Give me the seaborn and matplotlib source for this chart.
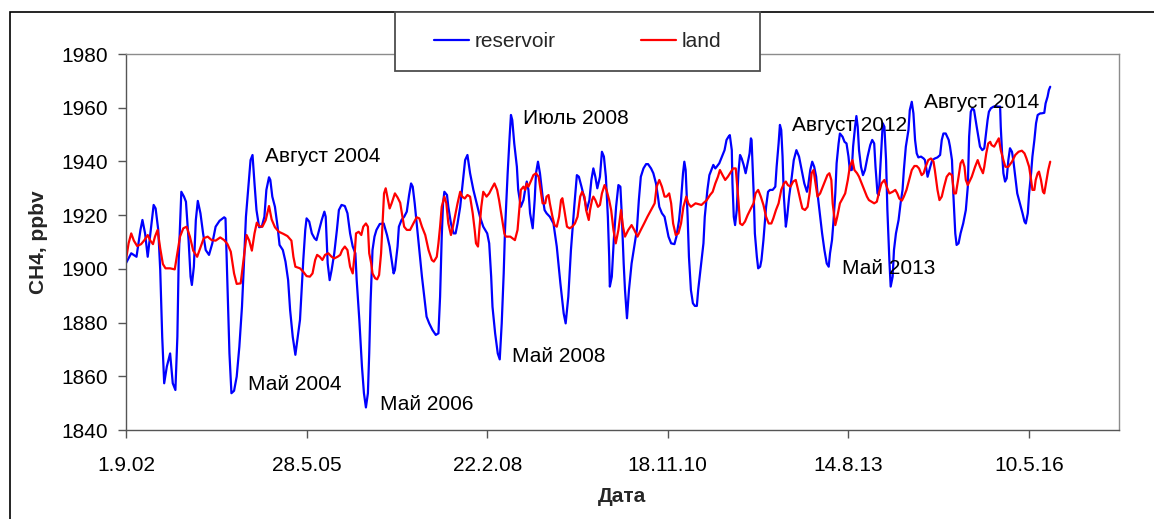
import numpy as np
import pandas as pd
import matplotlib
matplotlib.use('Agg')
import matplotlib.pyplot as plt
from matplotlib.patches import Rectangle
import seaborn as sns

# data: decimal year, CH4 (ppbv)
res_t = [2002.66, 2002.74, 2002.82, 2002.88, 2002.91, 2002.95, 2002.99, 2003.08, 2003.11, 2003.15,
         2003.18, 2003.21, 2003.24, 2003.28, 2003.33, 2003.37, 2003.41, 2003.44, 2003.46, 2003.50,
         2003.54, 2003.57, 2003.61, 2003.64, 2003.66, 2003.69, 2003.72, 2003.75, 2003.79, 2003.83,
         2003.87, 2003.92, 2003.97, 2004.02, 2004.08, 2004.15, 2004.17, 2004.20, 2004.23, 2004.26,
         2004.30, 2004.34, 2004.38, 2004.42, 2004.45, 2004.48, 2004.52, 2004.55, 2004.58, 2004.61,
         2004.64, 2004.68, 2004.72, 2004.76, 2004.79, 2004.83, 2004.85, 2004.88, 2004.92, 2004.96,
         2004.99, 2005.04, 2005.08, 2005.12, 2005.15, 2005.19, 2005.23, 2005.30, 2005.35, 2005.38,
         2005.40, 2005.44, 2005.48, 2005.52, 2005.55, 2005.59, 2005.63, 2005.67, 2005.69, 2005.72,
         2005.75, 2005.78, 2005.82, 2005.86, 2005.89, 2005.93, 2005.98, 2006.02, 2006.06, 2006.10,
         2006.14, 2006.16, 2006.20, 2006.24, 2006.27, 2006.30, 2006.33, 2006.35, 2006.37, 2006.40,
         2006.43, 2006.46, 2006.51, 2006.57, 2006.62, 2006.66, 2006.69, 2006.72, 2006.74, 2006.78,
         2006.80, 2006.84, 2006.88, 2006.92, 2006.955, 2006.985, 2007.01, 2007.04, 2007.07, 2007.11,
         2007.15, 2007.19, 2007.22, 2007.26, 2007.31, 2007.36, 2007.40, 2007.425, 2007.45, 2007.47,
         2007.49, 2007.53, 2007.55, 2007.59, 2007.63, 2007.66, 2007.69, 2007.73, 2007.77, 2007.805,
         2007.84, 2007.88, 2007.93, 2007.98, 2008.03, 2008.08, 2008.14, 2008.17, 2008.20, 2008.22,
         2008.26, 2008.30, 2008.33, 2008.36, 2008.39, 2008.41, 2008.45, 2008.48, 2008.50, 2008.52,
         2008.55, 2008.59, 2008.61, 2008.65, 2008.69, 2008.715, 2008.74, 2008.765, 2008.79, 2008.83,
         2008.86, 2008.88, 2008.91, 2008.94, 2008.98, 2009.01, 2009.04, 2009.09, 2009.145, 2009.195,
         2009.25, 2009.30, 2009.33, 2009.37, 2009.41, 2009.46, 2009.50, 2009.53, 2009.57, 2009.62,
         2009.65, 2009.69, 2009.72, 2009.75, 2009.78, 2009.81, 2009.85, 2009.88, 2009.91, 2009.94,
         2009.97, 2009.99, 2010.00, 2010.03, 2010.06, 2010.095, 2010.13, 2010.16, 2010.18, 2010.21,
         2010.23, 2010.26, 2010.29, 2010.33, 2010.37, 2010.41, 2010.44, 2010.47, 2010.51, 2010.55,
         2010.58, 2010.625, 2010.66, 2010.70, 2010.73, 2010.75, 2010.79, 2010.83, 2010.86, 2010.89,
         2010.93, 2010.98, 2011.01, 2011.05, 2011.08, 2011.11, 2011.13, 2011.15, 2011.18, 2011.20,
         2011.23, 2011.26, 2011.29, 2011.32, 2011.34, 2011.38, 2011.42, 2011.44, 2011.48, 2011.51,
         2011.55, 2011.57, 2011.60, 2011.62, 2011.66, 2011.70, 2011.74, 2011.77, 2011.80, 2011.82,
         2011.85, 2011.86, 2011.88, 2011.90, 2011.925, 2011.95, 2011.975, 2012.00, 2012.03, 2012.06,
         2012.09, 2012.12, 2012.14, 2012.15, 2012.18, 2012.20, 2012.23, 2012.25, 2012.28, 2012.30,
         2012.33, 2012.37, 2012.40, 2012.43, 2012.47, 2012.51, 2012.53, 2012.56, 2012.58, 2012.60,
         2012.62, 2012.64, 2012.67, 2012.69, 2012.72, 2012.76, 2012.79, 2012.83, 2012.87, 2012.91,
         2012.95, 2012.99, 2013.01, 2013.04, 2013.07, 2013.10, 2013.13, 2013.15, 2013.19, 2013.22,
         2013.255, 2013.29, 2013.32, 2013.34, 2013.37, 2013.39, 2013.42, 2013.44, 2013.47, 2013.49,
         2013.53, 2013.56, 2013.59, 2013.62, 2013.64, 2013.67, 2013.69, 2013.72, 2013.74, 2013.76,
         2013.78, 2013.81, 2013.84, 2013.87, 2013.91, 2013.95, 2013.98, 2014.01, 2014.03, 2014.06,
         2014.08, 2014.11, 2014.14, 2014.165, 2014.19, 2014.21, 2014.24, 2014.26, 2014.29, 2014.31,
         2014.34, 2014.38, 2014.41, 2014.44, 2014.46, 2014.49, 2014.53, 2014.55, 2014.58, 2014.605,
         2014.63, 2014.655, 2014.68, 2014.72, 2014.76, 2014.78, 2014.82, 2014.86, 2014.89, 2014.93,
         2014.97, 2015.01, 2015.035, 2015.06, 2015.095, 2015.14, 2015.16, 2015.19, 2015.21, 2015.24,
         2015.26, 2015.29, 2015.32, 2015.36, 2015.40, 2015.43, 2015.45, 2015.475, 2015.50, 2015.525,
         2015.54, 2015.565, 2015.59, 2015.615, 2015.65, 2015.68, 2015.70, 2015.73, 2015.75, 2015.78,
         2015.82, 2015.85, 2015.89, 2015.92, 2015.93, 2015.95, 2015.97, 2015.995, 2016.02, 2016.045,
         2016.07, 2016.10, 2016.12, 2016.15, 2016.18, 2016.22, 2016.26, 2016.29, 2016.31, 2016.34,
         2016.36, 2016.39, 2016.41, 2016.44, 2016.465, 2016.49, 2016.53, 2016.55, 2016.59, 2016.61,
         2016.64, 2016.66, 2016.68]
res_v = [1902.1, 1905.8, 1904.5, 1914.5, 1918.2, 1913.2, 1904.5, 1923.8, 1922.5, 1914.5,
         1899.6, 1874.7, 1857.4, 1863.6, 1868.5, 1857.4, 1854.9, 1874.7, 1903.3, 1928.7,
         1926.9, 1925.0, 1910.7, 1897.1, 1894.0, 1900.8, 1918.2, 1925.3, 1920.7, 1913.2,
         1907.0, 1905.2, 1909.5, 1915.7, 1917.9, 1919.2, 1918.8, 1893.4, 1868.5, 1853.7,
         1854.6, 1859.9, 1871.0, 1885.9, 1902.1, 1919.4, 1931.2, 1940.5, 1942.4, 1931.8,
         1921.9, 1915.5, 1915.7, 1919.4, 1929.4, 1934.1, 1933.1, 1926.9, 1923.1, 1915.7,
         1908.9, 1907.0, 1902.7, 1895.8, 1884.7, 1874.7, 1868.0, 1881.0, 1903.3, 1914.5,
         1918.8, 1917.6, 1913.2, 1911.4, 1910.7, 1914.5, 1918.2, 1921.3, 1919.4, 1902.1,
         1895.8, 1899.6, 1905.8, 1914.5, 1921.9, 1923.8, 1923.4, 1920.7, 1913.2, 1908.3,
         1905.8, 1895.8, 1881.0, 1863.6, 1853.7, 1848.4, 1853.7, 1868.5, 1887.2, 1907.0,
         1912.0, 1914.5, 1916.7, 1916.9, 1912.6, 1908.3, 1903.3, 1898.3, 1899.6, 1908.3,
         1915.7, 1918.2, 1919.4, 1921.3, 1927.5, 1931.8, 1930.6, 1924.4, 1916.9, 1907.0,
         1897.1, 1888.4, 1882.2, 1879.7, 1877.2, 1875.4, 1876.0, 1889.6, 1912.0, 1924.4,
         1928.7, 1927.5, 1923.1, 1916.9, 1913.2, 1913.2, 1916.9, 1923.1, 1932.5, 1940.5,
         1942.4, 1935.6, 1929.4, 1924.4, 1919.4, 1915.7, 1913.2, 1909.5, 1897.1, 1885.9,
         1876.0, 1868.5, 1866.3, 1879.7, 1898.3, 1914.5, 1935.6, 1949.2, 1957.3, 1955.4,
         1946.7, 1938.0, 1929.4, 1923.1, 1925.6, 1929.4, 1932.5, 1929.4, 1920.7, 1915.1,
         1925.6, 1935.6, 1939.9, 1935.6, 1926.9, 1921.9, 1920.7, 1919.4, 1916.9, 1908.3,
         1894.6, 1883.4, 1879.7, 1889.6, 1907.0, 1923.1, 1934.9, 1934.3, 1930.6, 1925.6,
         1921.9, 1925.6, 1933.1, 1937.4, 1934.3, 1930.0, 1934.3, 1943.6, 1941.8, 1934.3,
         1919.4, 1904.5, 1893.4, 1897.1, 1910.7, 1923.1, 1931.2, 1930.6, 1920.7, 1902.0,
         1892.1, 1881.6, 1892.1, 1902.0, 1908.3, 1914.5, 1925.6, 1934.3, 1937.4, 1939.0,
         1939.0, 1937.4, 1935.6, 1931.8, 1926.9, 1923.1, 1920.7, 1919.4, 1915.7, 1912.0,
         1909.5, 1909.2, 1912.0, 1918.2, 1925.6, 1935.6, 1939.9, 1936.8, 1919.4, 1904.5,
         1892.1, 1887.2, 1886.2, 1886.2, 1892.1, 1900.8, 1909.5, 1919.4, 1929.4, 1934.9,
         1937.4, 1938.7, 1937.4, 1938.0, 1939.3, 1941.8, 1944.2, 1948.0, 1949.2, 1949.8,
         1944.2, 1931.8, 1919.4, 1916.3, 1921.9, 1935.6, 1942.4, 1941.1, 1938.7, 1935.6,
         1939.3, 1943.0, 1948.6, 1948.0, 1929.4, 1913.2, 1904.5, 1900.2, 1900.8, 1903.3,
         1910.7, 1923.1, 1928.7, 1929.4, 1929.4, 1930.6, 1938.0, 1946.7, 1953.6, 1951.7,
         1941.8, 1926.9, 1915.7, 1919.4, 1926.9, 1934.3, 1940.5, 1944.2, 1941.8, 1936.8,
         1931.8, 1928.7, 1931.2, 1936.8, 1939.9, 1938.0, 1934.3, 1928.1, 1919.4, 1913.2,
         1907.0, 1902.0, 1900.8, 1905.8, 1910.7, 1916.9, 1928.1, 1939.3, 1946.7, 1950.4,
         1949.2, 1947.3, 1946.7, 1941.8, 1936.8, 1936.8, 1945.5, 1952.9, 1956.9, 1952.9,
         1944.2, 1938.0, 1934.9, 1936.8, 1941.8, 1946.1, 1948.0, 1946.7, 1938.0, 1928.1,
         1927.5, 1940.5, 1954.2, 1952.9, 1940.5, 1921.9, 1903.3, 1893.4, 1897.1, 1907.0,
         1913.2, 1918.2, 1924.4, 1929.4, 1936.8, 1945.5, 1951.7, 1959.1, 1962.2, 1957.9,
         1948.0, 1943.0, 1941.5, 1941.8, 1941.1, 1940.5, 1934.3, 1938.0, 1940.5, 1941.1,
         1941.5, 1942.4, 1948.0, 1950.4, 1950.4, 1948.0, 1945.5, 1940.5, 1928.1, 1913.2,
         1908.9, 1909.5, 1913.2, 1916.9, 1921.9, 1930.6, 1949.2, 1958.5, 1959.8, 1959.1,
         1956.7, 1952.9, 1949.2, 1945.5, 1944.2, 1944.9, 1949.2, 1955.4, 1958.5, 1959.8,
         1960.4, 1960.6, 1960.4, 1960.4, 1952.9, 1943.0, 1935.6, 1932.5, 1933.7, 1940.5,
         1944.9, 1943.6, 1940.5, 1934.3, 1928.1, 1924.4, 1920.7, 1917.6, 1916.9, 1920.7,
         1928.1, 1935.6, 1941.8, 1948.0, 1954.2, 1957.3, 1957.9, 1957.9, 1958.1, 1961.6,
         1964.1, 1966.6, 1967.8]

land_t = [2002.66, 2002.70, 2002.74, 2002.78, 2002.83, 2002.89, 2002.94, 2002.99, 2003.03, 2003.07,
          2003.10, 2003.14, 2003.18, 2003.22, 2003.26, 2003.33, 2003.40, 2003.44, 2003.48, 2003.53,
          2003.58, 2003.63, 2003.68, 2003.74, 2003.79, 2003.84, 2003.90, 2003.96, 2004.02, 2004.09,
          2004.15, 2004.20, 2004.25, 2004.30, 2004.34, 2004.40, 2004.45, 2004.49, 2004.53, 2004.57,
          2004.61, 2004.645, 2004.68, 2004.73, 2004.78, 2004.83, 2004.87, 2004.92, 2004.98, 2005.05,
          2005.11, 2005.17, 2005.20, 2005.23, 2005.30, 2005.35, 2005.40, 2005.45, 2005.49, 2005.53,
          2005.56, 2005.60, 2005.64, 2005.68, 2005.73, 2005.78, 2005.82, 2005.87, 2005.91, 2005.94,
          2005.98, 2006.02, 2006.06, 2006.10, 2006.13, 2006.15, 2006.19, 2006.23, 2006.26, 2006.30,
          2006.33, 2006.35, 2006.38, 2006.40, 2006.44, 2006.47, 2006.50, 2006.53, 2006.555, 2006.575,
          2006.60, 2006.63, 2006.66, 2006.69, 2006.74, 2006.78, 2006.82, 2006.85, 2006.88, 2006.92,
          2006.97, 2007.02, 2007.07, 2007.11, 2007.15, 2007.20, 2007.25, 2007.30, 2007.33, 2007.375,
          2007.40, 2007.425, 2007.45, 2007.49, 2007.52, 2007.55, 2007.59, 2007.62, 2007.65, 2007.69,
          2007.73, 2007.76, 2007.80, 2007.84, 2007.88, 2007.92, 2007.95, 2007.97, 2008.00, 2008.02,
          2008.05, 2008.08, 2008.13, 2008.17, 2008.21, 2008.25, 2008.29, 2008.32, 2008.36, 2008.40,
          2008.42, 2008.49, 2008.56, 2008.60, 2008.63, 2008.65, 2008.69, 2008.715, 2008.74, 2008.765,
          2008.81, 2008.84, 2008.88, 2008.92, 2008.95, 2008.98, 2009.02, 2009.04, 2009.07, 2009.09,
          2009.13, 2009.16, 2009.195, 2009.23, 2009.26, 2009.28, 2009.31, 2009.35, 2009.39, 2009.43,
          2009.47, 2009.51, 2009.55, 2009.58, 2009.615, 2009.64, 2009.68, 2009.70, 2009.73, 2009.75,
          2009.78, 2009.82, 2009.85, 2009.88, 2009.92, 2009.95, 2009.99, 2010.02, 2010.055, 2010.09,
          2010.13, 2010.17, 2010.20, 2010.23, 2010.28, 2010.33, 2010.37, 2010.42, 2010.47, 2010.52,
          2010.57, 2010.625, 2010.68, 2010.71, 2010.75, 2010.79, 2010.83, 2010.86, 2010.90, 2010.93,
          2010.96, 2011.00, 2011.04, 2011.08, 2011.116, 2011.16, 2011.19, 2011.23, 2011.30, 2011.39,
          2011.47, 2011.52, 2011.56, 2011.60, 2011.64, 2011.67, 2011.71, 2011.75, 2011.79, 2011.84,
          2011.87, 2011.91, 2011.95, 2011.975, 2012.01, 2012.05, 2012.09, 2012.14, 2012.18, 2012.21,
          2012.25, 2012.29, 2012.33, 2012.37, 2012.41, 2012.45, 2012.48, 2012.52, 2012.56, 2012.60,
          2012.64, 2012.67, 2012.70, 2012.74, 2012.78, 2012.82, 2012.85, 2012.89, 2012.92, 2012.96,
          2013.00, 2013.03, 2013.06, 2013.09, 2013.12, 2013.15, 2013.19, 2013.23, 2013.27, 2013.30,
          2013.33, 2013.36, 2013.38, 2013.42, 2013.45, 2013.49, 2013.53, 2013.57, 2013.61, 2013.64,
          2013.68, 2013.71, 2013.75, 2013.78, 2013.82, 2013.86, 2013.90, 2013.93, 2013.97, 2014.01,
          2014.05, 2014.08, 2014.12, 2014.165, 2014.20, 2014.24, 2014.29, 2014.33, 2014.36, 2014.39,
          2014.43, 2014.46, 2014.50, 2014.54, 2014.58, 2014.62, 2014.655, 2014.69, 2014.73, 2014.76,
          2014.79, 2014.83, 2014.87, 2014.91, 2014.93, 2014.97, 2015.00, 2015.035, 2015.07, 2015.11,
          2015.15, 2015.19, 2015.22, 2015.25, 2015.29, 2015.32, 2015.35, 2015.38, 2015.40, 2015.43,
          2015.49, 2015.54, 2015.58, 2015.615, 2015.66, 2015.68, 2015.71, 2015.74, 2015.77, 2015.79,
          2015.83, 2015.87, 2015.90, 2015.93, 2015.97, 2016.00, 2016.045, 2016.10, 2016.15, 2016.20,
          2016.25, 2016.29, 2016.32, 2016.36, 2016.39, 2016.41, 2016.44, 2016.46, 2016.49, 2016.51,
          2016.54, 2016.57, 2016.59, 2016.62, 2016.65, 2016.68]
land_v = [1903.3, 1909.5, 1913.2, 1910.5, 1908.5, 1909.2, 1910.7, 1912.6, 1910.5, 1909.2,
          1912.0, 1914.5, 1907.6, 1901.8, 1900.2, 1900.2, 1899.8, 1905.8, 1912.0, 1915.1,
          1915.7, 1912.0, 1906.8, 1904.5, 1908.0, 1911.4, 1912.0, 1910.7, 1910.5, 1911.7,
          1910.7, 1909.2, 1906.4, 1898.3, 1894.4, 1894.6, 1904.5, 1912.6, 1910.5, 1906.8,
          1913.2, 1917.2, 1915.9, 1915.7, 1918.2, 1923.4, 1918.4, 1915.5, 1913.8, 1913.0,
          1912.2, 1910.5, 1904.5, 1900.8, 1900.2, 1898.9, 1897.3, 1897.1, 1898.3, 1903.3,
          1905.2, 1904.5, 1903.3, 1905.2, 1905.8, 1904.5, 1903.9, 1904.5, 1905.2, 1907.0,
          1908.3, 1907.0, 1900.8, 1898.3, 1905.8, 1913.2, 1913.8, 1912.6, 1915.7, 1916.9,
          1915.7, 1905.8, 1902.1, 1898.3, 1896.5, 1896.1, 1897.7, 1905.8, 1918.2, 1928.1,
          1930.0, 1926.2, 1922.5, 1924.4, 1928.1, 1926.6, 1924.6, 1920.0, 1915.7, 1914.5,
          1914.5, 1916.9, 1919.2, 1918.8, 1915.7, 1912.6, 1907.0, 1903.3, 1902.7, 1904.5,
          1909.5, 1915.7, 1923.1, 1926.9, 1924.4, 1916.9, 1912.6, 1915.7, 1919.4, 1924.4,
          1928.7, 1926.9, 1926.2, 1927.5, 1926.9, 1920.7, 1914.5, 1909.5, 1908.3, 1914.5,
          1923.1, 1928.7, 1926.9, 1928.1, 1930.0, 1931.8, 1929.4, 1925.6, 1919.4, 1913.2,
          1912.0, 1912.0, 1910.7, 1914.5, 1923.1, 1929.4, 1930.6, 1929.4, 1931.8, 1930.6,
          1933.1, 1934.9, 1935.6, 1934.3, 1929.4, 1924.4, 1924.4, 1926.9, 1927.5, 1924.4,
          1919.4, 1916.3, 1915.7, 1919.4, 1925.6, 1926.3, 1921.9, 1915.7, 1915.1, 1915.7,
          1916.9, 1919.4, 1926.9, 1928.7, 1926.9, 1921.9, 1918.2, 1921.9, 1925.6, 1926.9,
          1925.6, 1923.1, 1923.8, 1928.1, 1931.2, 1929.4, 1925.6, 1921.9, 1914.5, 1909.5,
          1914.5, 1921.9, 1915.7, 1912.0, 1914.5, 1916.3, 1914.5, 1912.0, 1914.5, 1916.9,
          1919.4, 1921.9, 1924.4, 1930.6, 1933.1, 1930.6, 1926.9, 1926.9, 1928.1, 1924.4,
          1916.9, 1912.6, 1913.2, 1916.9, 1923.1, 1926.9, 1924.4, 1923.1, 1924.4, 1923.8,
          1925.6, 1927.5, 1928.7, 1931.8, 1934.3, 1936.8, 1934.9, 1933.1, 1934.3, 1936.2,
          1937.4, 1937.4, 1925.6, 1916.9, 1916.3, 1917.6, 1920.0, 1922.5, 1924.4, 1928.1,
          1929.4, 1926.9, 1923.8, 1919.4, 1916.9, 1916.9, 1918.8, 1921.9, 1924.4, 1929.4,
          1931.8, 1932.5, 1931.2, 1930.6, 1932.5, 1933.1, 1930.0, 1925.6, 1922.5, 1921.9,
          1923.1, 1928.1, 1935.6, 1936.8, 1931.8, 1926.9, 1928.1, 1930.6, 1933.1, 1934.9,
          1935.6, 1933.1, 1924.4, 1916.3, 1919.4, 1924.4, 1926.2, 1928.1, 1933.1, 1938.0,
          1940.5, 1936.8, 1935.6, 1934.3, 1931.8, 1929.4, 1926.9, 1925.6, 1925.0, 1924.4,
          1925.0, 1928.1, 1931.8, 1933.1, 1930.6, 1928.1, 1928.7, 1929.4, 1928.1, 1926.2,
          1925.4, 1926.9, 1929.4, 1933.1, 1936.8, 1938.3, 1938.3, 1937.4, 1934.9, 1935.6,
          1938.0, 1940.5, 1941.1, 1939.9, 1936.8, 1929.4, 1925.6, 1926.9, 1930.6, 1934.3,
          1935.6, 1934.9, 1928.1, 1928.1, 1934.3, 1939.3, 1940.5, 1938.0, 1933.1, 1931.2,
          1934.3, 1938.0, 1940.5, 1938.0, 1935.6, 1938.0, 1943.0, 1946.7, 1947.3, 1946.1,
          1945.5, 1947.3, 1948.6, 1944.2, 1940.5, 1938.0, 1938.0, 1939.9, 1942.4, 1943.6,
          1944.0, 1943.0, 1941.1, 1938.0, 1933.1, 1929.4, 1929.4, 1933.1, 1935.6, 1936.2,
          1933.1, 1928.7, 1928.1, 1932.5, 1936.8, 1939.9]

tick_start = '2002-09-01'
tick_labels = ['1.9.02', '28.5.05', '22.2.08', '18.11.10', '14.8.13', '10.5.16']

notes = [('Август 2004', 2004.771, 1941.7), ('Май 2004', 2004.513, 1856.8),
         ('Май 2006', 2006.515, 1849.5), ('Июль 2008', 2008.684, 1955.8),
         ('Май 2008', 2008.517, 1867.2), ('Август 2012', 2012.764, 1953.2),
         ('Май 2013', 2013.522, 1900.3), ('Август 2014', 2014.766, 1961.8)]


def to_date(t):
    t = np.asarray(t, dtype=float)
    return pd.Timestamp('2002-01-01') + pd.to_timedelta((t - 2002) * 365.25, unit='D')


res = pd.DataFrame({'date': to_date(res_t), 'ch4': res_v})
land = pd.DataFrame({'date': to_date(land_t), 'ch4': land_v})

sns.set_theme(style='white')
plt.rcParams['font.family'] = ['Liberation Sans', 'DejaVu Sans']
FS = 15

W, H = 1154, 519
fig = plt.figure(figsize=(W / 100, H / 100), dpi=100)
ax = fig.add_axes([126.3 / W, 1 - 430 / H, (1119 - 126.3) / W, (430 - 54) / H])

sns.lineplot(data=res, x='date', y='ch4', ax=ax, color='#0000ff', lw=1.6,
             estimator=None, sort=False, label='reservoir')
sns.lineplot(data=land, x='date', y='ch4', ax=ax, color='#ff0000', lw=1.6,
             estimator=None, sort=False, label='land')
handles, labels = ax.get_legend_handles_labels()
if ax.get_legend() is not None:
    ax.get_legend().remove()

start = pd.Timestamp(tick_start)
ticks = pd.date_range(start, periods=len(tick_labels), freq='1000D')
ax.set_xlim(start, start + pd.Timedelta(days=5500))
ax.set_ylim(1840, 1980)
ax.set_yticks(np.arange(1840, 1981, 20))
ax.set_xticks(ticks)
ax.set_xticklabels(tick_labels)
ax.set_xlabel('')
ax.set_ylabel('')

for side in ['left', 'bottom']:
    ax.spines[side].set_color('#555555')
    ax.spines[side].set_linewidth(1.0)
for side in ['top', 'right']:
    ax.spines[side].set_color('#8c8c8c')
    ax.spines[side].set_linewidth(1.0)

ax.tick_params(axis='both', direction='out', length=5.8, width=1.0, color='#555555',
               labelsize=FS, labelcolor='black')
ax.tick_params(axis='y', pad=7.2, left=True)
ax.tick_params(axis='x', pad=13, bottom=True)

for txt, t, v in notes:
    ax.text(to_date([t])[0], v, txt, fontsize=FS, ha='left', va='center', color='black')

fig.text(39 / W, 1 - 242 / H, 'CH4, ppbv', rotation=90, ha='center', va='center',
         fontsize=FS, fontweight='bold')
fig.text(622.5 / W, 1 - 497 / H, 'Дата', ha='center', va='center',
         fontsize=FS, fontweight='bold')

# outer chart border (only left and top visible)
fig.add_artist(Rectangle((10 / W, -0.5), 2, (1 - 12 / H) + 0.5, transform=fig.transFigure,
                         fill=False, edgecolor='black', lw=1.2, zorder=4))
# legend box
fig.add_artist(Rectangle((395 / W, 1 - 70.7 / H), 365 / W, 58.4 / H, transform=fig.transFigure,
                         facecolor='white', edgecolor='#4d4d4d', lw=1.3, zorder=5))
leg = fig.legend(handles, labels, loc='center', bbox_to_anchor=(577.5 / W, 1 - 41.5 / H),
                 ncol=2, frameon=False, fontsize=FS, handlelength=1.7, handletextpad=0.25,
                 columnspacing=4.1, borderpad=0)
leg.set_zorder(6)

fig.savefig('out.png', dpi=100)
